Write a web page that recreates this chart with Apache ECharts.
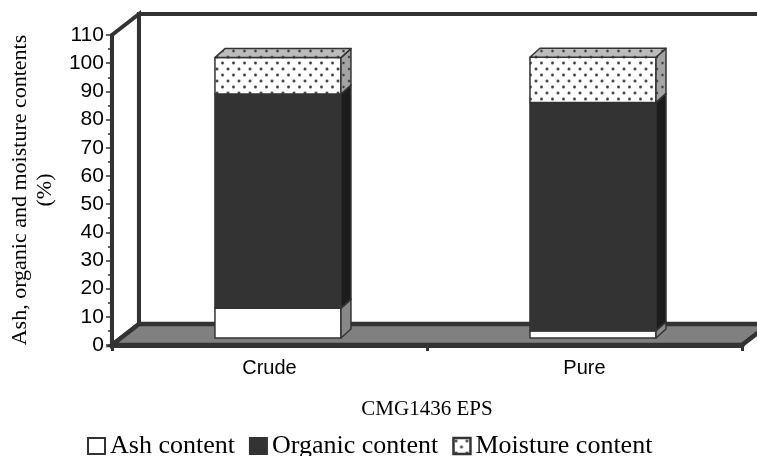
<!DOCTYPE html>
<html><head><meta charset="utf-8">
<script src="https://cdn.jsdelivr.net/npm/echarts@6/dist/echarts.min.js"></script>
<style>html,body{margin:0;padding:0;background:#fff}#c{width:757px;height:456px}</style>
</head><body><div id="c"></div>
<script>
// ---- data ----
const categories = ['Crude', 'Pure'];
const seriesNames = ['Ash content', 'Organic content', 'Moisture content'];
const ashValues = [10.6, 2.6];
const organicValues = [76.0, 81.0];
const moistureValues = [12.9, 16.0];
const yAxisMin = 0;
const yAxisMax = 110;
const yAxisStep = 10;
const xTitle = 'CMG1436 EPS';
const yTitle = 'Ash, organic and moisture contents\n(%)';

// ---- 3D styling constants ----
const DX = 27, DY = 21;        // floor/wall depth
const FX = 8.5, FY = 7;        // bar front plane offset
const BDX = 10, BDY = 9;       // bar depth
const BAR_FRAC = 0.4;

function dotPattern(bg) {
  const c = document.createElement('canvas');
  c.width = 11; c.height = 12;
  const g = c.getContext('2d');
  g.fillStyle = bg; g.fillRect(0, 0, 11, 12);
  [[2.5, 3], [8, 9]].forEach(p => {
    g.fillStyle = '#888';
    g.beginPath(); g.arc(p[0], p[1], 1.7, 0, Math.PI * 2); g.fill();
    g.fillStyle = '#333';
    g.beginPath(); g.arc(p[0], p[1], 1.0, 0, Math.PI * 2); g.fill();
  });
  return { image: c, repeat: 'repeat' };
}
const dotsWhite = dotPattern('#ffffff');
const dotsTop = dotPattern('#bcbcbc');
const dotsSide = dotPattern('#a4a4a4');

const faceStyles = [
  { front: '#ffffff', side: '#888888', top: '#bbbbbb' },
  { front: '#333333', side: '#1c1c1c', top: '#555555' },
  { front: dotsWhite, side: dotsSide, top: dotsTop }
];

function stackData(idx) {
  const arrs = [ashValues, organicValues, moistureValues];
  return categories.map((c, i) => {
    let base = 0;
    for (let k = 0; k < idx; k++) base += arrs[k][i];
    return [i, base, base + arrs[idx][i]];
  });
}

function barRender(fs) {
  return function (params, api) {
    const cat = api.value(0), lo = api.value(1), hi = api.value(2);
    const pLo = api.coord([cat, lo]), pHi = api.coord([cat, hi]);
    const bw = api.size([1, 0])[0] * BAR_FRAC;
    const x0 = pLo[0] - bw / 2 + FX, x1 = x0 + bw;
    const yB = pLo[1] - FY, yT = pHi[1] - FY;
    const st = { stroke: '#333', lineWidth: 1.5, lineJoin: 'round' };
    return {
      type: 'group', children: [
        { type: 'rect', shape: { x: x0, y: yT, width: bw, height: yB - yT }, style: Object.assign({ fill: fs.front }, st) },
        { type: 'polygon', shape: { points: [[x1, yB], [x1 + BDX, yB - BDY], [x1 + BDX, yT - BDY], [x1, yT]] }, style: Object.assign({ fill: fs.side }, st) },
        { type: 'polygon', shape: { points: [[x0, yT], [x0 + BDX, yT - BDY], [x1 + BDX, yT - BDY], [x1, yT]] }, style: Object.assign({ fill: fs.top }, st) }
      ]
    };
  };
}

function wallRender(params, api) {
  const cs = params.coordSys;
  const x = cs.x, y = cs.y, w = cs.width, h = cs.height, yb = y + h;
  return {
    type: 'group', children: [
      { type: 'rect', shape: { x: x + DX, y: y - DY, width: w, height: h }, style: { fill: '#fff', stroke: '#333', lineWidth: 4 } },
      { type: 'polygon', shape: { points: [[x, y], [x + DX, y - DY], [x + DX, yb - DY], [x, yb]] }, style: { fill: '#fff', stroke: '#333', lineWidth: 4, lineJoin: 'miter' } },
      { type: 'polygon', shape: { points: [[x, yb], [x + DX, yb - DY], [x + w + DX, yb - DY], [x + w, yb]] }, style: { fill: '#808080', stroke: '#333', lineWidth: 4.5, lineJoin: 'miter' } }
    ]
  };
}

const chart = echarts.init(document.getElementById('c'), null, { renderer: 'canvas' });
const series = [{
  type: 'custom', name: '_walls', z: 1, silent: true, clip: false,
  data: [[0, 0]], encode: { x: 0, y: 1 },
  renderItem: wallRender
}];
seriesNames.forEach((n, i) => {
  series.push({
    type: 'custom', name: n, z: 2 + i, clip: false,
    itemStyle: { color: i === 2 ? '#ffffff' : faceStyles[i].front, borderColor: '#333', borderWidth: 1.5 },
    data: stackData(i), encode: { x: 0, y: [1, 2] },
    renderItem: barRender(faceStyles[i])
  });
});

chart.setOption({
  animation: false,
  backgroundColor: '#ffffff',
  grid: { left: 110, top: 35, width: 632, height: 310 },
  xAxis: {
    type: 'category', data: categories, z: 10,
    axisLine: { show: true, lineStyle: { color: '#333', width: 5 } },
    axisTick: { show: true, length: 6, lineStyle: { color: '#333', width: 3 } },
    axisLabel: { fontFamily: 'Liberation Sans', fontSize: 20, color: '#000', margin: 13 },
    name: xTitle, nameLocation: 'middle', nameGap: 54,
    nameTextStyle: { fontFamily: 'Liberation Serif', fontSize: 21, color: '#000' }
  },
  yAxis: {
    type: 'value', min: yAxisMin, max: yAxisMax, interval: yAxisStep, z: 10,
    axisLine: { show: true, lineStyle: { color: '#333', width: 3 } },
    axisTick: { show: true, length: 6, lineStyle: { color: '#333', width: 1.5 } },
    minorTick: { show: true, splitNumber: 2, length: 4, lineStyle: { color: '#333', width: 1.5 } },
    splitLine: { show: false },
    axisLabel: { fontFamily: 'Liberation Sans', fontSize: 21, color: '#000', margin: 8 },
    name: yTitle, nameLocation: 'middle', nameGap: 51, nameRotate: 90,
    nameTextStyle: { fontFamily: 'Liberation Serif', fontSize: 22, lineHeight: 25, color: '#000', align: 'center' }
  },
  legend: {
    left: 82, top: 428, itemWidth: 17, itemHeight: 16, itemGap: 14,
    selectedMode: false,
    textStyle: { fontFamily: 'Liberation Serif', fontSize: 26, color: '#000' },
    data: [
      { name: seriesNames[0], icon: 'rect', itemStyle: { color: '#ffffff', borderColor: '#333', borderWidth: 2 } },
      { name: seriesNames[1], icon: 'rect', itemStyle: { color: '#333333', borderColor: '#333', borderWidth: 2 } },
      { name: seriesNames[2], icon: 'rect', itemStyle: { color: dotsWhite, borderColor: '#333', borderWidth: 2.5 } }
    ]
  },
  series: series
});
</script></body></html>
